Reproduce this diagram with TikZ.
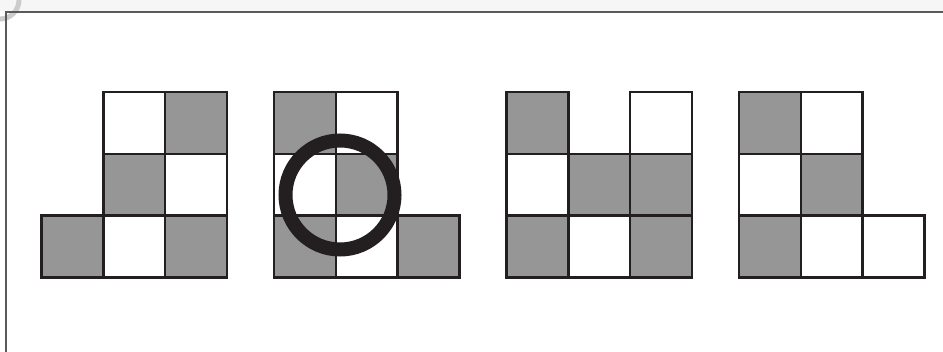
\documentclass[tikz,border=0pt]{standalone}
\usepackage{tikz}
\definecolor{cellGray}{HTML}{969696}
\definecolor{inkBlack}{HTML}{231F20}
\definecolor{frameGray}{HTML}{5A5A5A}

\begin{document}
\begin{tikzpicture}[x=1pt, y=-1pt,
  cellg/.style={fill=cellGray, draw=inkBlack, line width=2.4pt},
  cellw/.style={fill=white, draw=inkBlack, line width=2.4pt},
  ring/.style={draw=inkBlack, line width=14pt}]
\useasboundingbox (0,0) rectangle (943,352);
\fill[gray!7] (0,0) rectangle (943,11);
\begin{scope}
  \clip (0,0) rectangle (943,352);
  \draw[gray!40, line width=5pt] (0,0) circle (19);
\end{scope}
\draw[frameGray, line width=1.8pt] (6,352) -- (6,12) -- (943,12);
% figure 1
\begin{scope}[shift={(41.5,92)}]
  \foreach \c/\r/\s in {1/0/cellw, 2/0/cellg, 1/1/cellg, 2/1/cellw, 0/2/cellg, 1/2/cellw, 2/2/cellg}
    \draw[\s] (\c*61.8,\r*61.8) rectangle ++(61.8,61.8);
\end{scope}
% figure 2 (circled)
\begin{scope}[shift={(274,92)}]
  \foreach \c/\r/\s in {0/0/cellg, 1/0/cellw, 0/1/cellw, 1/1/cellg, 0/2/cellg, 1/2/cellw, 2/2/cellg}
    \draw[\s] (\c*61.8,\r*61.8) rectangle ++(61.8,61.8);
  \draw[ring] (66,103) circle (54.5);
\end{scope}
% figure 3
\begin{scope}[shift={(506.5,92)}]
  \foreach \c/\r/\s in {0/0/cellg, 2/0/cellw, 0/1/cellw, 1/1/cellg, 2/1/cellg, 0/2/cellg, 1/2/cellw, 2/2/cellg}
    \draw[\s] (\c*61.8,\r*61.8) rectangle ++(61.8,61.8);
\end{scope}
% figure 4
\begin{scope}[shift={(739,92)}]
  \foreach \c/\r/\s in {0/0/cellg, 1/0/cellw, 0/1/cellw, 1/1/cellg, 0/2/cellg, 1/2/cellw, 2/2/cellw}
    \draw[\s] (\c*61.8,\r*61.8) rectangle ++(61.8,61.8);
\end{scope}
\end{tikzpicture}
\end{document}
